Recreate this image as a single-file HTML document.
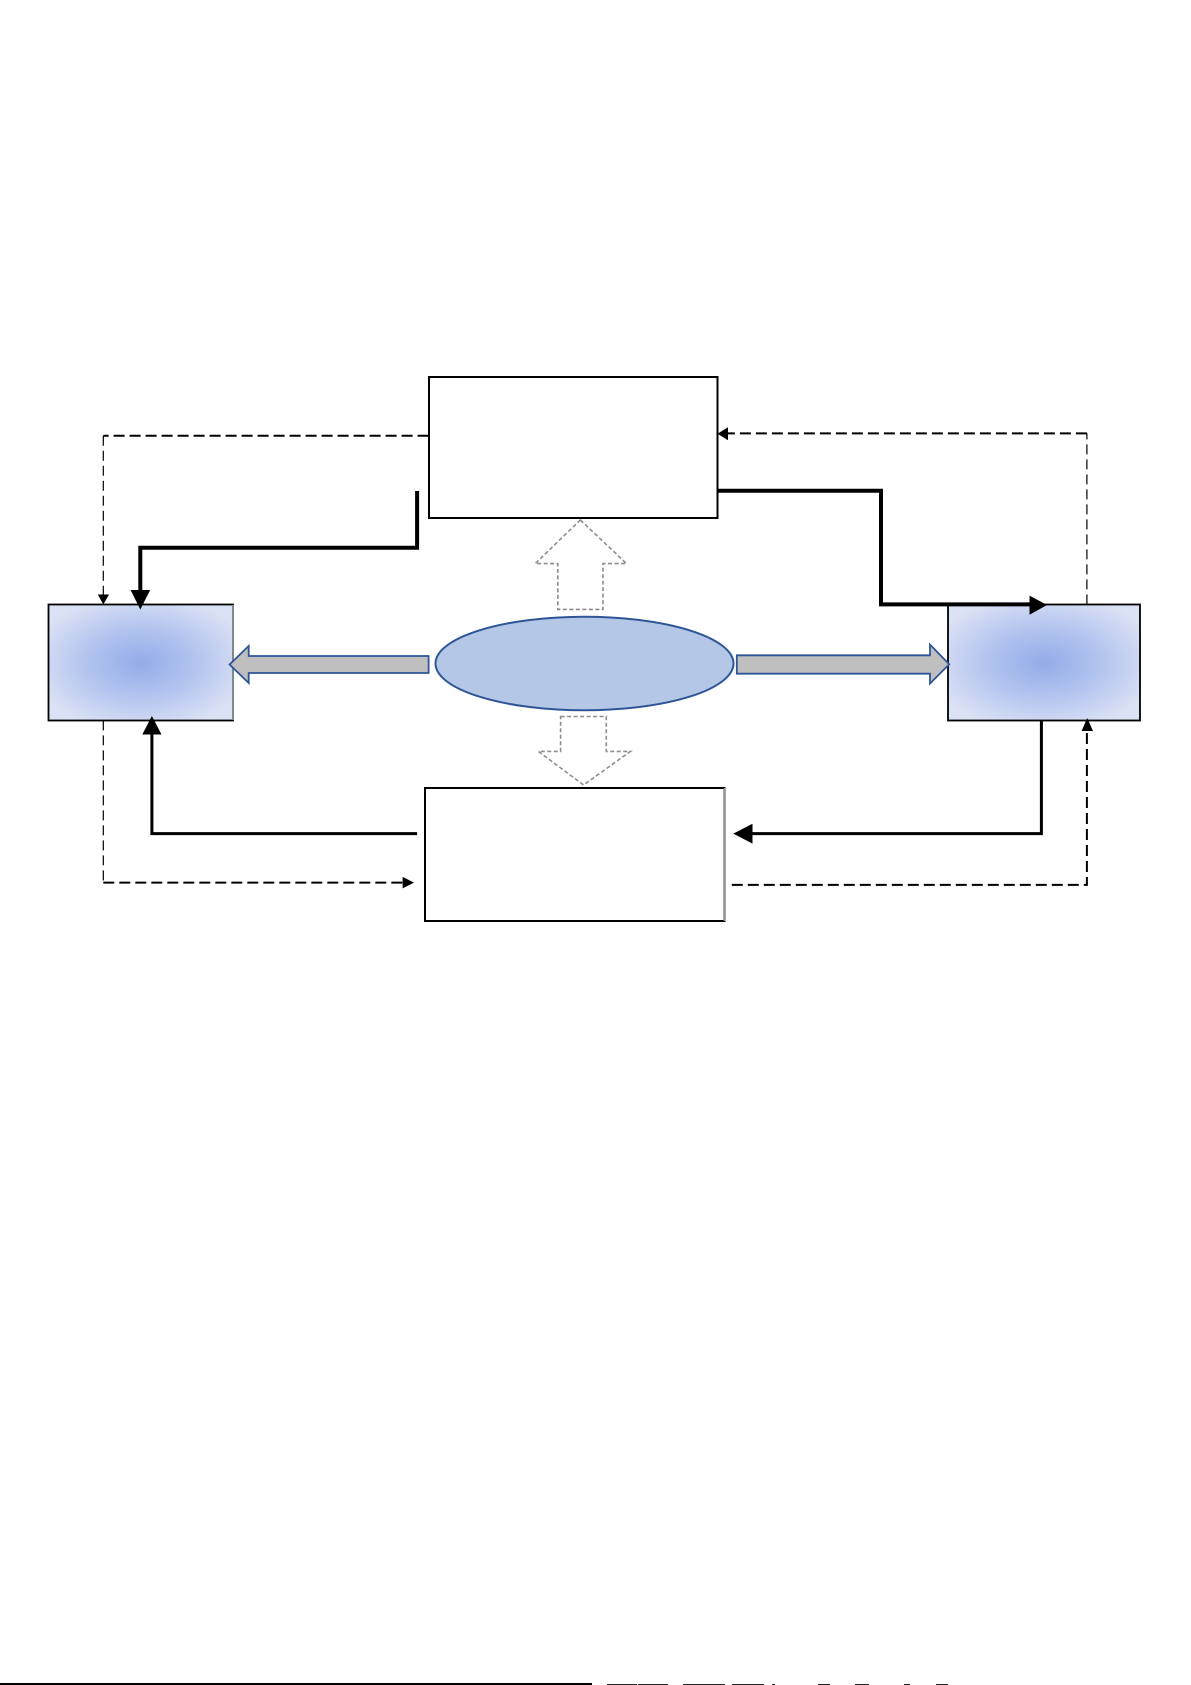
<!DOCTYPE html>
<html>
<head>
<meta charset="utf-8">
<style>
html,body{margin:0;padding:0;background:#fff;}
body{width:1191px;height:1685px;overflow:hidden;position:relative;font-family:"Liberation Sans",sans-serif;}
svg{position:absolute;left:0;top:0;}
</style>
</head>
<body>
<svg width="1191" height="1685" viewBox="0 0 1191 1685" xmlns="http://www.w3.org/2000/svg">
<defs>
<radialGradient id="gL" cx="0.5" cy="0.5" r="0.6">
<stop offset="0" stop-color="#93ace8"/>
<stop offset="0.5" stop-color="#b3c4ef"/>
<stop offset="1" stop-color="#dce2f5"/>
</radialGradient>
</defs>

<!-- Top box -->
<rect x="429" y="377" width="288.5" height="141" fill="#fff" stroke="#000" stroke-width="2"/>
<!-- Bottom box -->
<rect x="425" y="788" width="299.5" height="133" fill="#fff" stroke="#000" stroke-width="2"/>
<line x1="724.5" y1="788" x2="724.5" y2="921" stroke="#999" stroke-width="1.5"/>

<!-- Left blue box -->
<rect x="48.5" y="604.5" width="184.5" height="116" fill="url(#gL)" stroke="#000" stroke-width="1.8"/>
<line x1="233" y1="605" x2="233" y2="720" stroke="#9aa" stroke-width="1.5"/>
<!-- Right blue box -->
<rect x="948" y="604.5" width="192" height="116" fill="url(#gL)" stroke="#000" stroke-width="1.8"/>

<!-- Ellipse -->
<ellipse cx="584.5" cy="663.5" rx="149" ry="46.8" fill="#b4c7e7" stroke="#2f5597" stroke-width="2"/>

<!-- Left block arrow -->
<polygon points="428.6,656 248.7,656 248.7,646 229.6,664.5 248.7,683 248.7,673 428.6,673" fill="#bfbfbf" stroke="#2f5597" stroke-width="1.8" stroke-linejoin="miter"/>
<!-- Right block arrow -->
<polygon points="736.8,655.3 930,655.3 930,644.6 949.2,664.3 930,683.6 930,673.7 736.8,673.7" fill="#bfbfbf" stroke="#2f5597" stroke-width="1.8"/>

<!-- Up dashed arrow -->
<polygon points="580.3,520 626.5,563.6 603,563.6 603,609.4 557.8,609.4 557.8,563.6 535.2,563.6" fill="none" stroke="#8c8c8c" stroke-width="1.6" stroke-dasharray="4,2.5"/>
<!-- Down dashed arrow -->
<polygon points="560.6,716.5 606.3,716.5 606.3,751.4 630.4,751.4 583.6,785 538.4,751.4 560.6,751.4" fill="none" stroke="#8c8c8c" stroke-width="1.6" stroke-dasharray="4,2.5"/>

<!-- Dashed: top box left -> left box top -->
<path d="M428.6,435.7 L103.3,435.7" stroke="#000" stroke-width="2" stroke-dasharray="11,5" fill="none"/>
<path d="M103.3,435.7 L103.3,596" stroke="#000" stroke-width="1.2" stroke-dasharray="10,5" fill="none"/>
<polygon points="97.8,594.5 109,594.5 103.3,604.5" fill="#000"/>

<!-- Thick: top box -> left box -->
<path d="M417.1,491 L417.1,547.8 L140.3,547.8 L140.3,592" stroke="#000" stroke-width="4" fill="none"/>
<polygon points="130.6,590 150.2,590 140.3,609.5" fill="#000"/>

<!-- Thick: bottom box -> left box -->
<path d="M417.1,833.6 L151.9,833.6 L151.9,732" stroke="#000" stroke-width="3" fill="none"/>
<polygon points="142.3,734.5 161.5,734.5 151.9,716" fill="#000"/>

<!-- Dashed: left box bottom -> bottom box -->
<path d="M103.3,720.4 L103.3,882.6" stroke="#000" stroke-width="1.2" stroke-dasharray="10,5" fill="none"/>
<path d="M103.3,882.6 L403,882.6" stroke="#000" stroke-width="2" stroke-dasharray="11,5" fill="none"/>
<polygon points="402.6,876.9 402.6,888.4 414,882.6" fill="#000"/>

<!-- Dashed: right box top -> top box right -->
<path d="M1086.9,604.4 L1086.9,433.4" stroke="#000" stroke-width="1.2" stroke-dasharray="10,5" fill="none"/>
<path d="M1086.9,433.4 L728,433.4" stroke="#000" stroke-width="2" stroke-dasharray="11,5" fill="none"/>
<polygon points="728,427.2 728,440.3 717.5,433.7" fill="#000"/>

<!-- Thick: top box right -> right box -->
<path d="M717.7,490.8 L881,490.8 L881,604.4 L1031,604.4" stroke="#000" stroke-width="4" fill="none"/>
<polygon points="1029.5,595.6 1029.5,614.7 1047,605" fill="#000"/>

<!-- Thick: right box bottom -> bottom box -->
<path d="M1041.4,720 L1041.4,833.6 L751,833.6" stroke="#000" stroke-width="3" fill="none"/>
<polygon points="752.5,823.7 752.5,843.6 733.3,833.6" fill="#000"/>

<!-- Dashed: bottom box right -> right box bottom -->
<path d="M731.8,884.9 L1086.9,884.9 L1086.9,731" stroke="#000" stroke-width="2" stroke-dasharray="11,5" fill="none"/>
<polygon points="1081.6,731 1093,731 1087.2,718" fill="#000"/>

<!-- bottom edge line -->
<line x1="0" y1="1684" x2="592" y2="1684" stroke="#000" stroke-width="2"/>
<g fill="#222">
<rect x="607" y="1684" width="30" height="1"/>
<rect x="638" y="1684" width="30" height="1"/>
<rect x="683" y="1684" width="42" height="1"/>
<rect x="732" y="1684" width="32" height="1"/>
<rect x="772" y="1684" width="3" height="1"/>
<rect x="818" y="1684" width="12" height="1"/>
<rect x="855" y="1684" width="14" height="1"/>
<rect x="904" y="1684" width="6" height="1"/>
<rect x="936" y="1684" width="12" height="1"/>
</g>
</svg>
</body>
</html>
